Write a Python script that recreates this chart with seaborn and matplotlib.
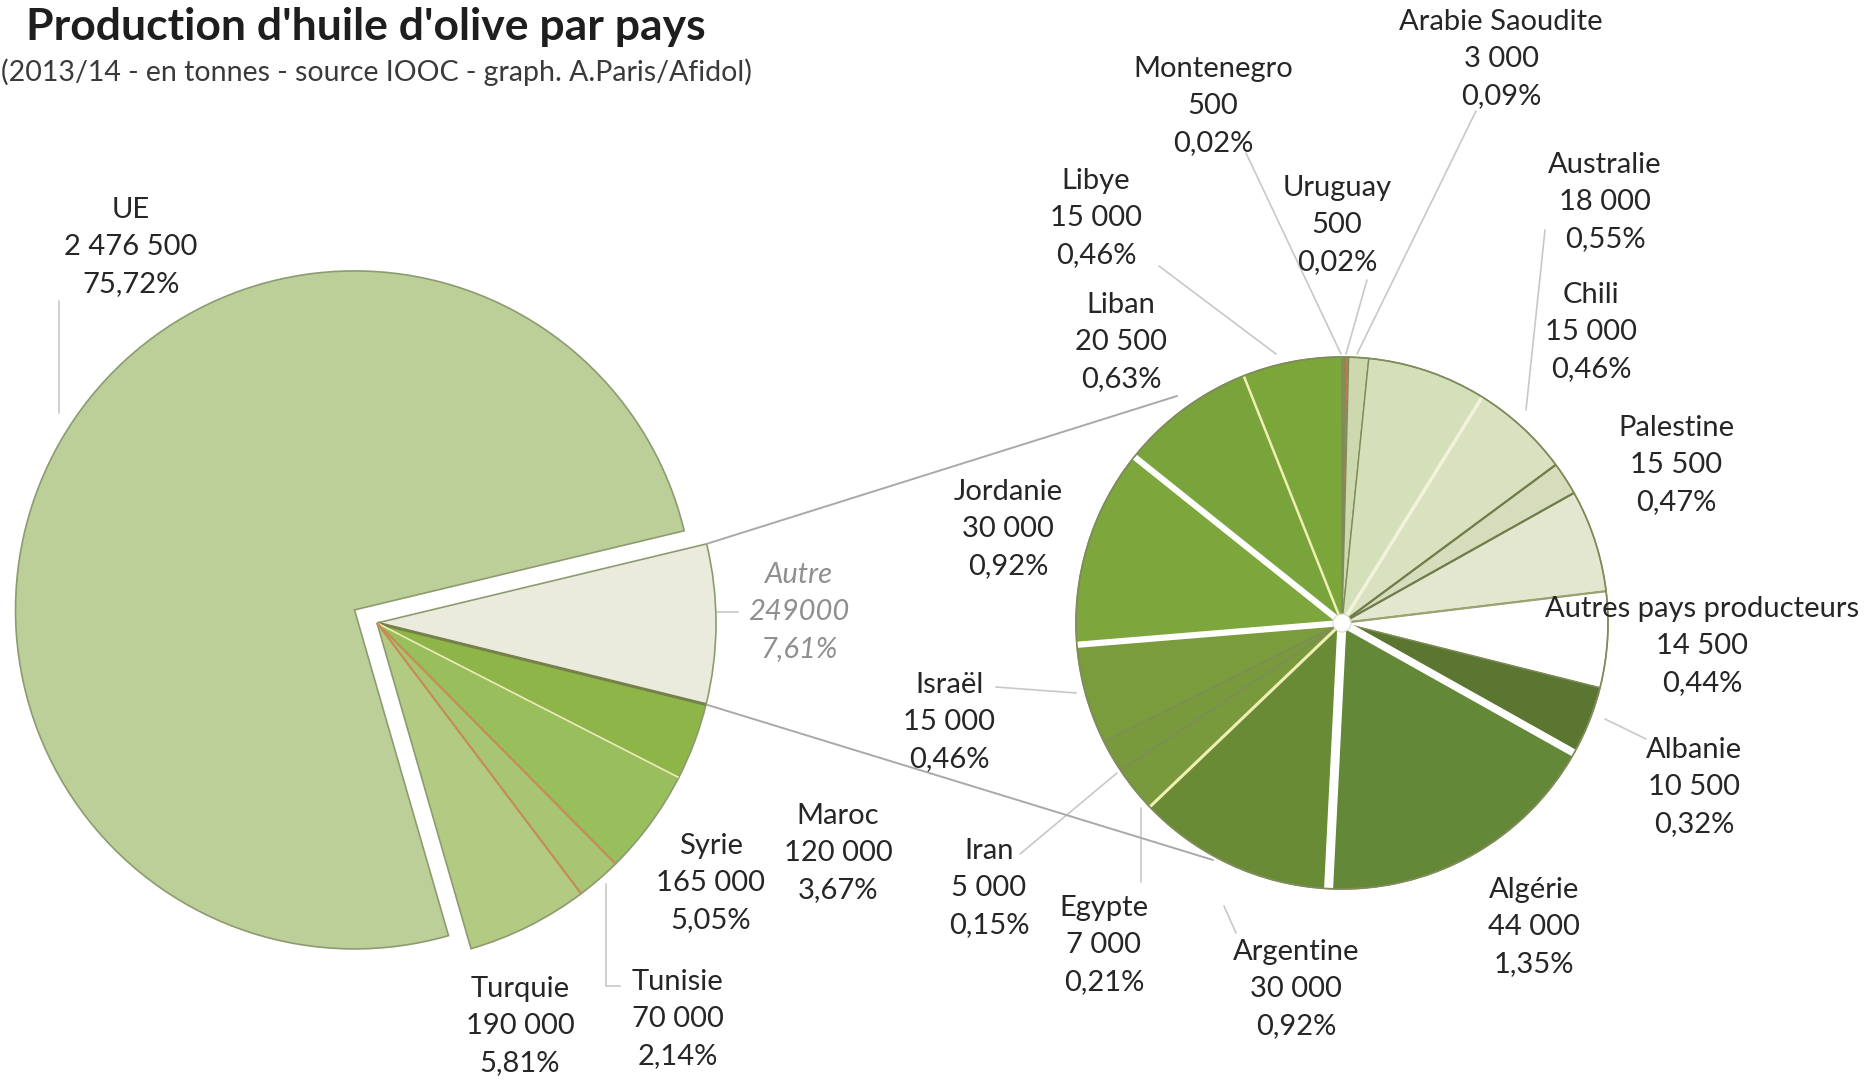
import numpy as np
import matplotlib
matplotlib.use("Agg")
import matplotlib.pyplot as plt
import seaborn as sns

# --- Data: olive oil production 2013/14, tonnes ---------------------------
main_labels = ["UE", "Autre", "Maroc", "Syrie", "Tunisie", "Turquie"]
main_values = [2476500, 249000, 120000, 165000, 70000, 190000]
main_colors = ["#bccf99", "#eaebdc", "#8db548", "#99bf5d", "#a7c572", "#b2ca81"]

other_labels = ["Montenegro", "Uruguay", "Arabie Saoudite", "Australie", "Chili", "",
                "Palestine", "Autres pays producteurs", "Albanie", "Algérie", "Argentine",
                "Egypte", "Iran", "Israël", "Jordanie", "Liban", "Libye"]
other_values = [500, 500, 3000, 18000, 15000, 5000, 15500, 14500, 10500, 44000, 30000,
                7000, 5000, 15000, 30000, 20500, 15000]
other_colors = ["#b07a48", "#b9804c", "#ced8ae", "#d3e0ba", "#d9e1c0", "#d6dcbc",
                "#e4e7cf", "#ffffff", "#5b7631", "#628838", "#6a8b35", "#789a3c",
                "#789a3c", "#7a9c3c", "#7da63c", "#79a33b", "#7aa63a"]

title = "Production d'huile d'olive par pays"
subtitle = "(2013/14 - en tonnes - source IOOC - graph. A.Paris/Afidol)"

W, H = 1864, 1089
total = sum(main_values)

sns.set_theme(style="white")
plt.rcParams["font.family"] = ["Lato", "DejaVu Sans"]

fig = plt.figure(figsize=(W / 100, H / 100), dpi=100)
ax = fig.add_axes([0, 0, 1, 1])


def sy(y):
    """Convert a top-down pixel row into data y."""
    return H - y


def fmt_int(v):
    return f"{v:,}".replace(",", " ")


def fmt_pct(v):
    return f"{100 * v / total:.2f}".replace(".", ",") + "%"


# --- Main pie -------------------------------------------------------------
L_CX, L_CY, L_R = 377, 623, 339
L_START = 286.1
ax.pie(main_values, colors=main_colors, startangle=L_START, counterclock=False,
       radius=L_R, center=(L_CX, sy(L_CY)), explode=[26, 0, 0, 0, 0, 0],
       wedgeprops=dict(edgecolor="#8d9b70", linewidth=1.2))

# inner separators of the non-EU group
main_bounds = L_START - 360 * np.cumsum(main_values) / total
sep_styles = {1: ("#76804a", 2.2), 2: ("#ecebb2", 1.3), 3: ("#cf8a52", 1.3), 4: ("#cf8a52", 1.3)}
for i, (c, lw) in sep_styles.items():
    a = np.deg2rad(main_bounds[i])
    ax.plot([L_CX, L_CX + L_R * np.cos(a)], [sy(L_CY), sy(L_CY) + L_R * np.sin(a)],
            color=c, lw=lw, solid_capstyle="butt", zorder=3)

# --- Secondary pie (breakdown of "Autre") ---------------------------------
R_CX, R_CY, R_R = 1342, 623, 266
o_total = sum(other_values)
ax.pie(other_values, colors=other_colors, startangle=90, counterclock=False,
       radius=R_R, center=(R_CX, sy(R_CY)),
       wedgeprops=dict(edgecolor="#7f8c5a", linewidth=1.0))
o_bounds = 90 - 360 * np.cumsum(other_values) / o_total
o_sep = {
    "Australie": ("#f3f3dc", 2.5), "Chili": ("#6f7d4a", 1.6), "": ("#6f7d4a", 1.6),
    "Palestine": ("#9aa470", 1.6), "Albanie": ("#ffffff", 5.5), "Algérie": ("#ffffff", 6.5),
    "Argentine": ("#f1f0b4", 2.2), "Israël": ("#ffffff", 4.5), "Jordanie": ("#ffffff", 4.5),
    "Liban": ("#f1f0b4", 1.8),
}
for name, (c, lw) in o_sep.items():
    i = other_labels.index(name)
    a = np.deg2rad(o_bounds[i])
    ax.plot([R_CX, R_CX + R_R * np.cos(a)], [sy(R_CY), sy(R_CY) + R_R * np.sin(a)],
            color=c, lw=lw, solid_capstyle="butt", zorder=3)
ax.add_patch(plt.Circle((R_CX, sy(R_CY)), R_R, fill=False, ec="#7f8c5a", lw=1.2, zorder=4))
ax.add_patch(plt.Circle((R_CX, sy(R_CY)), 9, fc="white", ec="#d8d8c8", lw=0.8, zorder=5))

# --- Series lines from the "Autre" slice to the secondary pie -------------
a_top = np.deg2rad(main_bounds[0])
a_bot = np.deg2rad(main_bounds[1])
p_top = (L_CX + L_R * np.cos(a_top), sy(L_CY) + L_R * np.sin(a_top))
p_bot = (L_CX + L_R * np.cos(a_bot), sy(L_CY) + L_R * np.sin(a_bot))
ax.plot([p_top[0], 1177], [p_top[1], sy(396)], color="#a9a9a9", lw=1.4, zorder=1)
ax.plot([p_bot[0], 1213], [p_bot[1], sy(860)], color="#a9a9a9", lw=1.4, zorder=1)

# --- Data labels ------------------------------------------------------------
label_pos = {
    "UE": (131, 247), "Autre": (799, 612), "Maroc": (838, 853), "Syrie": (711, 883),
    "Tunisie": (678, 1019), "Turquie": (520, 1026),
    "Arabie Saoudite": (1501, 59), "Montenegro": (1213, 106), "Uruguay": (1337, 225),
    "Libye": (1096, 218), "Liban": (1121, 342), "Australie": (1605, 202),
    "Chili": (1591, 332), "Palestine": (1676, 465), "Autres pays producteurs": (1702, 646),
    "Albanie": (1694, 787), "Algérie": (1534, 927), "Argentine": (1296, 989),
    "Egypte": (1104, 945), "Iran": (989, 888), "Israël": (949, 722), "Jordanie": (1008, 529),
}
PITCH = 37
FS = 21


def put_label(name, value, italic=False, color="#262626", plain=False):
    x, y = label_pos[name]
    val = str(value) if plain else fmt_int(value)
    for k, line in enumerate([name, val, fmt_pct(value)]):
        ax.text(x, sy(y + (k - 1) * PITCH), line, ha="center", va="center", fontsize=FS,
                color=color, style="italic" if italic else "normal", zorder=6)


for n, v in zip(main_labels, main_values):
    if n == "Autre":
        put_label(n, v, italic=True, color="#8f8f8f", plain=True)
    else:
        put_label(n, v)
for n, v in zip(other_labels, other_values):
    if n:
        put_label(n, v)

# leader lines
leaders = [
    [(59, 301), (59, 413)],
    [(717, 612), (738, 612)],
    [(606, 884), (606, 986), (620, 986)],
    [(1476, 111), (1357, 354)],
    [(1246, 153), (1341, 354)],
    [(1367, 280), (1346, 354)],
    [(1159, 266), (1276, 354)],
    [(1545, 230), (1526, 410)],
    [(1646, 739), (1605, 719)],
    [(1236, 933), (1224, 906)],
    [(1141, 808), (1141, 882)],
    [(1020, 854), (1117, 773)],
    [(996, 687), (1076, 693)],
]
for pts in leaders:
    xs, ys = zip(*pts)
    ax.plot(xs, [sy(v) for v in ys], color="#c8c8c8", lw=1.2, zorder=0.5)

# --- Titles -----------------------------------------------------------------
ax.text(26, sy(27), title, ha="left", va="center", fontsize=32, fontweight="bold",
        color="#1e1e1e")
ax.text(1, sy(72), subtitle, ha="left", va="center", fontsize=20.5, color="#3a3a3a")

ax.set_xlim(0, W)
ax.set_ylim(0, H)
ax.set_aspect("equal")
ax.axis("off")
fig.savefig("out.png", dpi=100, facecolor="white")
